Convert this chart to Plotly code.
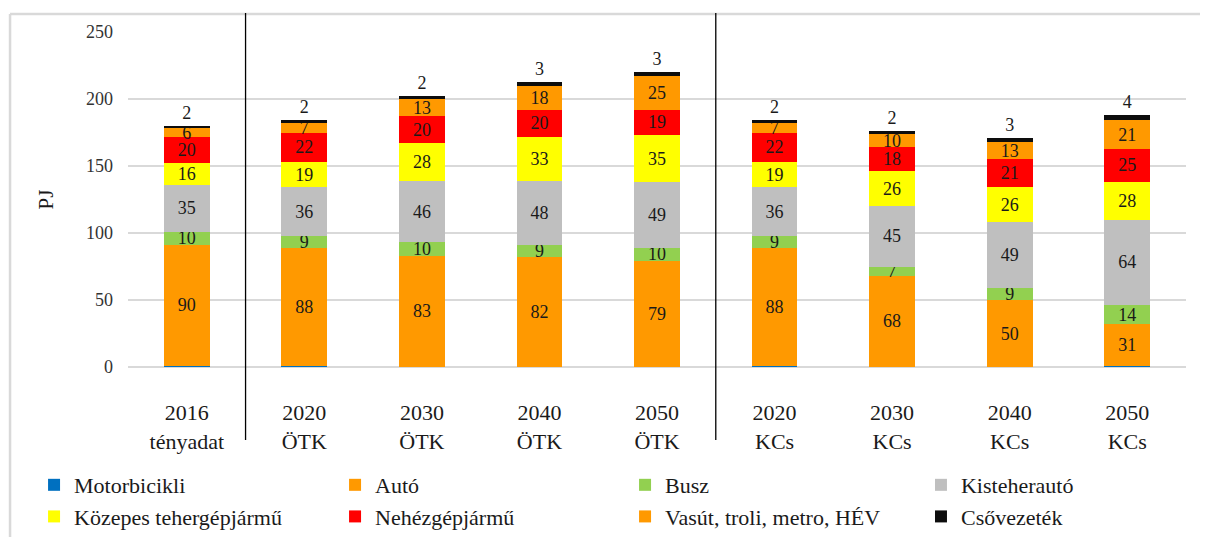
import plotly.graph_objects as go

# categories (year + scenario)
categories = ['2016<br>tényadat', '2020<br>ÖTK', '2030<br>ÖTK', '2040<br>ÖTK', '2050<br>ÖTK',
              '2020<br>KCs', '2030<br>KCs', '2040<br>KCs', '2050<br>KCs']

# energy use by mode, PJ
motorbicikli = [1, 1, 0, 0, 0, 1, 0, 0, 1]
auto = [90, 88, 83, 82, 79, 88, 68, 50, 31]
busz = [10, 9, 10, 9, 10, 9, 7, 9, 14]
kisteherauto = [35, 36, 46, 48, 49, 36, 45, 49, 64]
kozepes = [16, 19, 28, 33, 35, 19, 26, 26, 28]
nehez = [20, 22, 20, 20, 19, 22, 18, 21, 25]
vasut = [6, 7, 13, 18, 25, 7, 10, 13, 21]
csovezetek = [2, 2, 2, 3, 3, 2, 2, 3, 4]

y_ticks = [0, 50, 100, 150, 200, 250]

FONT = 'Liberation Serif'
TXT = '#1a1a1a'

# name, values, colour, legend column, label position
series = [
    ('Motorbicikli', motorbicikli, '#0070C0', 'legend', None),
    ('Autó', auto, '#FF9900', 'legend2', 'inside'),
    ('Busz', busz, '#92D050', 'legend3', 'inside'),
    ('Kisteherautó', kisteherauto, '#BFBFBF', 'legend4', 'inside'),
    ('Közepes tehergépjármű', kozepes, '#FFFF00', 'legend', 'inside'),
    ('Nehézgépjármű', nehez, '#FF0000', 'legend2', 'inside'),
    ('Vasút, troli, metro, HÉV', vasut, '#FF9900', 'legend3', 'inside'),
    ('Csővezeték', csovezetek, '#0D0D0D', 'legend4', 'outside'),
]

fig = go.Figure()
for name, vals, color, leg, pos in series:
    fig.add_trace(go.Bar(
        x=categories, y=vals, name=name,
        marker=dict(color=color, line=dict(width=0)),
        text=vals if pos else None,
        texttemplate='%{text}' if pos else None,
        textposition=pos if pos else 'none',
        insidetextanchor='middle',
        textangle=0,
        textfont=dict(family=FONT, size=18, color=TXT),
        cliponaxis=False,
        legend=leg,
        legendgroup=name,
    ))

# frame around the chart and the scenario separators
shapes = [
    dict(type='line', xref='paper', yref='paper', x0=-0.1115, x1=1.03, y0=1.0537, y1=1.0537,
         line=dict(color='#D9D9D9', width=2.5)),
    dict(type='line', xref='paper', yref='paper', x0=-0.1115, x1=-0.1115, y0=1.0537, y1=-0.52,
         line=dict(color='#D9D9D9', width=2.5)),
]
for sep in [0.5, 4.5]:
    shapes.append(dict(type='line', xref='x', yref='paper', x0=sep, x1=sep, y0=1.057, y1=-0.218,
                       line=dict(color='black', width=1.3)))

leg_common = dict(orientation='v', traceorder='normal', xanchor='left', yanchor='top',
                  font=dict(family=FONT, size=22, color=TXT), bgcolor='rgba(0,0,0,0)',
                  tracegroupgap=7, itemwidth=30)
leg_y = -0.2896
fig.update_layout(
    # page body adds 8px, so the figure is 8px smaller than the window
    width=1200, height=529,
    margin=dict(l=120, r=22, t=24, b=170, autoexpand=False),
    paper_bgcolor='white', plot_bgcolor='white',
    barmode='stack', bargap=0.61,
    font=dict(family=FONT, color=TXT),
    uniformtext=dict(minsize=18, mode='show'),
    shapes=shapes,
    legend=dict(x=-0.0888, y=leg_y, **leg_common),
    legend2=dict(x=0.1957, y=leg_y, **leg_common),
    legend3=dict(x=0.4698, y=leg_y, **leg_common),
    legend4=dict(x=0.7495, y=leg_y, **leg_common),
    xaxis=dict(
        range=[-0.5, 8.5], showgrid=False, showline=False, zeroline=False,
        tickfont=dict(family=FONT, size=22, color=TXT), ticklabelstandoff=30,
    ),
    yaxis=dict(
        range=[0, 250], tickvals=y_ticks, showgrid=True, gridcolor='#D9D9D9', gridwidth=1.5,
        zeroline=True, zerolinecolor='#D9D9D9', zerolinewidth=1.5, showline=False,
        tickfont=dict(family=FONT, size=18, color='#333333'), ticklabelstandoff=14,
        title=dict(text='PJ', font=dict(family=FONT, size=21, color=TXT), standoff=26),
    ),
)

fig.write_html('out.html')
